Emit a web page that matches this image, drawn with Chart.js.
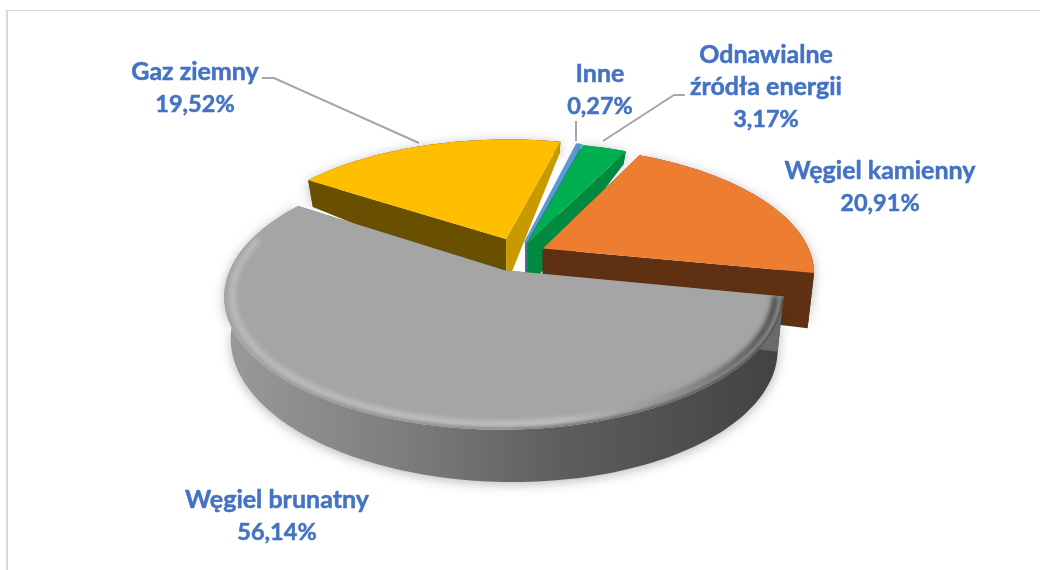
<!DOCTYPE html>
<html lang="pl">
<head>
<meta charset="utf-8">
<title>Struktura produkcji energii</title>
<style>
  html, body { margin: 0; background: #fff; overflow: hidden; }
  #frame { position: absolute; left: 6px; top: 10px; width: 1040px; height: 570px; border: 1px solid #d9d9d9; border-width: 1px 0 0 2px; }
  canvas { position: absolute; left: 0; top: 0; }
</style>
</head>
<body>
<div id="frame"></div>
<canvas id="pieChart" width="1040" height="570"></canvas>
<script src="https://cdn.jsdelivr.net/npm/chart.js@4"></script>
<script>
const categories = ['Węgiel kamienny', 'Węgiel brunatny', 'Gaz ziemny', 'Inne', 'Odnawialne źródła energii'];
const shares = [20.91, 56.14, 19.52, 0.27, 3.17];

const topColors = ['#ec7d31', '#a5a5a5', '#fdbf00', '#5b9bd5', '#00b050'];
const startWalls = ['#5f3012', '#6a6a6a', '#685000', '#44709c', '#008a40'];
const endWalls = ['#5f3012', '#6a6a6a', '#c99a00', '#44709c', '#008a40'];
const explode = [100, 140, 135, 95, 95];

// one entry per label: text lines, centre x, first baseline y
const labelLines = [['Węgiel kamienny'], ['Węgiel brunatny'], ['Gaz ziemny'], ['Inne'], ['Odnawialne', 'źródła energii']];
const labelX = [880, 277, 195, 600, 766];
const labelY = [179, 508, 80, 82, 63];

// leader lines as screen points
const leaders = [
    [[262, 78], [274, 78], [419, 143]],
    [[576, 121], [576, 141]],
    [[685, 95], [674, 95], [603, 141]]
];

// how the flat pie is tilted into the picture
const view = { cx: 519, cy: 254, a: 123, b: 268, p: 0.185 };

function project(u, v) {
    const w = 1 - view.p * v;
    return [view.cx + view.b * u / w, view.cy + view.a * v / w];
}

// wall height, shrinks towards the back of the pie
function bottomOf(u, v) {
    const t = Math.min(1, Math.max(0, (v + 1) / 0.6));
    const h = (47 + 7 * u + 5 * Math.max(v, 0)) * (0.25 + 0.75 * t);
    const [x, y] = project(u, v);
    return [view.cx + (x - view.cx) * 0.978, y + h];
}

function tracePoly(ctx, pts) {
    ctx.beginPath();
    pts.forEach((p, i) => i ? ctx.lineTo(p[0], p[1]) : ctx.moveTo(p[0], p[1]));
    ctx.closePath();
}

function traceLine(ctx, pts) {
    ctx.beginPath();
    pts.forEach((p, i) => i ? ctx.lineTo(p[0], p[1]) : ctx.moveTo(p[0], p[1]));
}

function drawSlice(ctx, arc, i) {
    const a0 = arc.startAngle, a1 = arc.endAngle, mid = (a0 + a1) / 2;
    const off = arc.options.offset / 1000;
    const u0 = Math.cos(mid) * off, v0 = Math.sin(mid) * off;
    const steps = Math.max(4, Math.ceil((a1 - a0) * 40));

    const rim = (r) => {
        const out = [];
        for (let s = 0; s <= steps; s++) {
            const a = a0 + (a1 - a0) * s / steps;
            out.push([u0 + r * Math.cos(a), v0 + r * Math.sin(a)]);
        }
        return out;
    };
    const edge = rim(1);
    const top = edge.map(p => project(p[0], p[1]));
    const bottom = edge.map(p => bottomOf(p[0], p[1]));
    const apexTop = project(u0, v0);
    const apexBottom = bottomOf(u0, v0);

    // outer wall, with the soft shadow under it
    ctx.save();
    ctx.shadowColor = 'rgba(0,0,0,0.28)';
    ctx.shadowBlur = 12;
    ctx.shadowOffsetY = 2;
    if (i === 1) {
        const g = ctx.createLinearGradient(225, 0, 782, 0);
        g.addColorStop(0, '#9a9a9a');
        g.addColorStop(0.3, '#7f7f7f');
        g.addColorStop(0.6, '#5e5e5e');
        g.addColorStop(1, '#424242');
        ctx.fillStyle = g;
    } else {
        ctx.fillStyle = startWalls[i];
    }
    tracePoly(ctx, top.concat(bottom.slice().reverse()));
    ctx.fill();
    ctx.restore();

    // the two cut faces
    ctx.fillStyle = startWalls[i];
    tracePoly(ctx, [apexTop, top[0], bottom[0], apexBottom]);
    ctx.fill();
    ctx.fillStyle = endWalls[i];
    tracePoly(ctx, [apexTop, top[steps], bottom[steps], apexBottom]);
    ctx.fill();

    // top face
    ctx.fillStyle = topColors[i];
    tracePoly(ctx, [apexTop].concat(top));
    ctx.fill();
    if (i === 3) {
        // the sliver is drawn with a bevel in the original, so it reads wider
        ctx.strokeStyle = topColors[i];
        ctx.lineWidth = 2.5;
        ctx.stroke();
    }

    // rounded rim on the big slice, only along its front part
    if (i === 1) {
        const front = (p) => v0 + p[1] - v0 > -0.12;
        ctx.save();
        tracePoly(ctx, [apexTop].concat(top));
        ctx.clip();
        const light = ctx.createLinearGradient(225, 0, 782, 0);
        light.addColorStop(0, '#bcbcbc');
        light.addColorStop(0.6, '#c4c4c4');
        light.addColorStop(0.8, '#8e8e8e');
        light.addColorStop(1, '#3c3c3c');
        ctx.filter = 'blur(2.5px)';
        ctx.strokeStyle = light;
        ctx.lineWidth = 6;
        traceLine(ctx, rim(0.972).filter(front).map(p => project(p[0], p[1])));
        ctx.stroke();
        const dark = ctx.createLinearGradient(225, 0, 782, 0);
        dark.addColorStop(0, 'rgba(138,138,138,0)');
        dark.addColorStop(0.25, 'rgba(138,138,138,0.7)');
        dark.addColorStop(0.5, '#8a8a8a');
        dark.addColorStop(1, '#3a3a3a');
        ctx.filter = 'blur(1.5px)';
        ctx.strokeStyle = dark;
        ctx.lineWidth = 4;
        traceLine(ctx, rim(1).filter(front).map(p => project(p[0], p[1])));
        ctx.stroke();
        ctx.restore();
    }
}

const pie3d = {
    id: 'pie3d',
    beforeDatasetDraw(chart, args) {
        const arcs = args.meta.data;
        const ctx = chart.ctx;
        // back slices first, the big one last
        [2, 3, 4, 0, 1].forEach(i => drawSlice(ctx, arcs[i], i));
        return false;
    },
    afterDraw(chart) {
        const ctx = chart.ctx;
        ctx.save();
        ctx.strokeStyle = '#a6a6a6';
        ctx.lineWidth = 2;
        leaders.forEach(line => {
            traceLine(ctx, line);
            ctx.stroke();
        });
        ctx.fillStyle = '#4472c4';
        ctx.strokeStyle = '#4472c4';
        ctx.lineWidth = 0.5;
        ctx.textAlign = 'center';
        labelLines.forEach((lines, i) => {
            const pct = shares[i].toFixed(2).replace('.', ',') + '%';
            ctx.font = 'bold 25px Lato';
            lines.forEach((t, k) => {
                ctx.fillText(t, labelX[i], labelY[i] + k * 32);
                ctx.strokeText(t, labelX[i], labelY[i] + k * 32);
            });
            ctx.font = 'bold 23.5px Lato';
            ctx.fillText(pct, labelX[i], labelY[i] + lines.length * 32);
            ctx.strokeText(pct, labelX[i], labelY[i] + lines.length * 32);
        });
        ctx.restore();
    }
};

new Chart(document.getElementById('pieChart'), {
    type: 'pie',
    data: {
        labels: categories,
        datasets: [{
            data: shares,
            backgroundColor: topColors,
            offset: explode,
            borderWidth: 0
        }]
    },
    options: {
        responsive: false,
        animation: false,
        rotation: 26,
        plugins: {
            legend: { display: false },
            tooltip: { enabled: false }
        }
    },
    plugins: [pie3d]
});
</script>
</body>
</html>
